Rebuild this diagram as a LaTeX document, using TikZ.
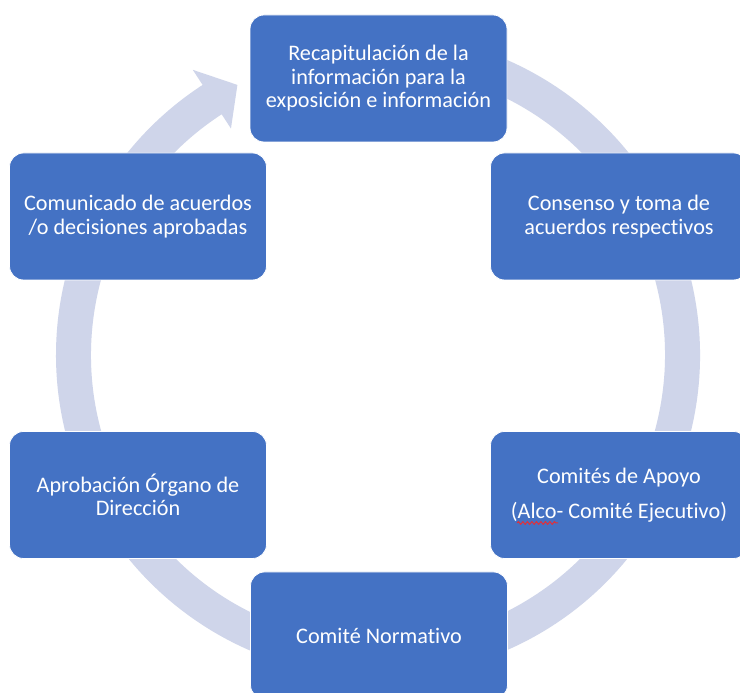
\documentclass[tikz,border=0pt]{standalone}
\usepackage{fontspec}
\setmainfont{Carlito}[Ligatures=NoCommon]
\usetikzlibrary{calc,decorations.pathmorphing}
\definecolor{boxblue}{HTML}{4472C4}
\definecolor{ringcol}{HTML}{CFD5EA}
\definecolor{spellred}{HTML}{E0303A}
\begin{document}
\begin{tikzpicture}[x=1pt,y=1pt,
  stepbox/.style={rectangle, rounded corners=14pt, fill=boxblue, draw=white,
    line width=0.8pt, minimum width=257pt, minimum height=127pt, text=white,
    align=center, font=\fontsize{22.2}{23.5}\selectfont, inner sep=0pt}]
\useasboundingbox (0,0) rectangle (740,693);
\clip (0,0) rectangle (740,693);
\fill[white] (0,0) rectangle (740,693);
\coordinate (c) at (378,338);
% circular arrow
\fill[ringcol] ($(c)+(100:322)$) arc[start angle=100,end angle=-237,radius=322pt]
  -- ($(c)+(123:340)$) -- ($(c)+(117.5:304.5)$) -- ($(c)+(123:270)$)
  -- ($(c)+(123:287)$) arc[start angle=-237,end angle=100,radius=287pt] -- cycle;
% boxes
\node[stepbox] (recap) at (378.5,614.5) {Recapitulación de la\\información para la\\exposición e información};
\node[stepbox] (consenso) at (619,476.5) {Consenso y toma de\\acuerdos respectivos};
\node[stepbox] (apoyo) at (619,198) {Comités de Apoyo\\[12pt](Alco- Comité Ejecutivo)};
\node[stepbox] (normativo) at (379,57.5) {Comité Normativo};
\node[stepbox] (aprobacion) at (138,198) {Aprobación Órgano de\\Dirección};
\node[stepbox] (comunicado) at (138,476.5) {Comunicado de acuerdos\\/o decisiones aprobadas};
% spell-check underline
\draw[spellred, line width=1pt, decorate, decoration={snake, amplitude=1.4pt, segment length=4.5pt}]
  ($(apoyo.center)+(-102,-28)$) -- ($(apoyo.center)+(-61,-28)$);
\end{tikzpicture}
\end{document}
